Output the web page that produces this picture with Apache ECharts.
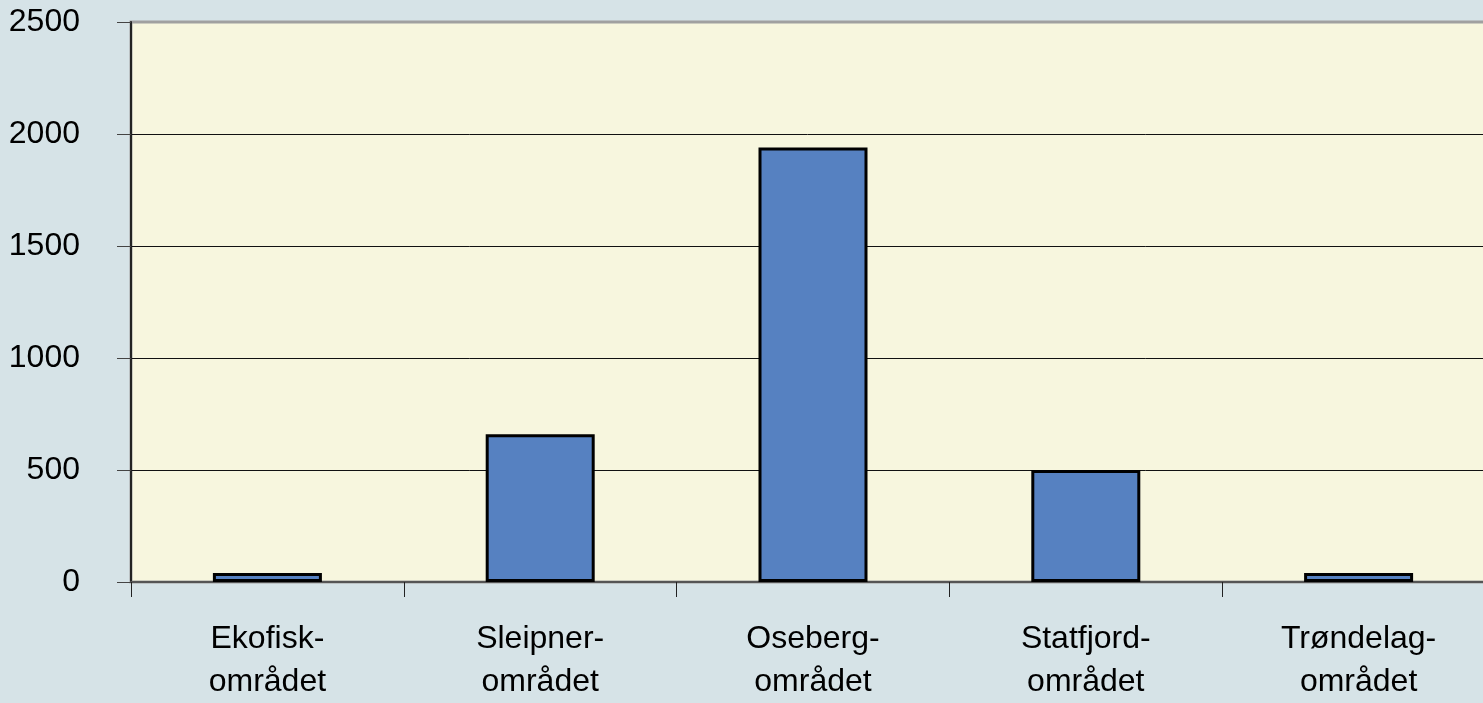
<!DOCTYPE html>
<html>
<head>
<meta charset="utf-8">
<script src="https://cdn.jsdelivr.net/npm/echarts@6/dist/echarts.min.js"></script>
<style>
  html, body { margin: 0; padding: 0; background: #d6e3e7; }
  #container { width: 1483px; height: 703px; }
</style>
</head>
<body>
<div id="container"></div>
<script>
var categories = ['Ekofisk-\nområdet', 'Sleipner-\nområdet', 'Oseberg-\nområdet', 'Statfjord-\nområdet', 'Trøndelag-\nområdet'];
var values = [40, 660, 1940, 500, 40];
var yTicks = [0, 500, 1000, 1500, 2000, 2500];

var font = "'Liberation Sans Narrow', 'Arial Narrow', 'Liberation Sans', sans-serif";

var option = {
  animation: false,
  backgroundColor: '#d6e3e7',
  grid: {
    left: 131,
    top: 22,
    width: 1364,
    bottom: 121,
    outerBoundsMode: 'none',
    containLabel: false,
    show: true,
    backgroundColor: '#f7f6de',
    borderColor: '#a0a0a0',
    borderWidth: 3
  },
  xAxis: {
    type: 'category',
    data: categories,
    axisLine: {
      lineStyle: { color: '#555', width: 2 }
    },
    axisTick: {
      show: true,
      length: 15,
      lineStyle: { color: '#222', width: 1 }
    },
    axisLabel: {
      color: '#000',
      fontFamily: font,
      fontSize: 32,
      lineHeight: 43,
      margin: 36
    }
  },
  yAxis: {
    type: 'value',
    min: yTicks[0],
    max: yTicks[yTicks.length - 1],
    interval: 500,
    axisLine: {
      show: true,
      lineStyle: { color: '#222', width: 2 }
    },
    axisTick: {
      show: true,
      length: 14,
      lineStyle: { color: '#444', width: 1 }
    },
    axisLabel: {
      color: '#000',
      fontFamily: font,
      fontSize: 32,
      margin: 51,
      formatter: function (v) { return String(v); }
    },
    splitLine: {
      showMaxLine: false,
      lineStyle: { color: '#111', width: 1 }
    }
  },
  series: [{
    type: 'bar',
    data: values,
    barWidth: 109,
    itemStyle: {
      color: '#5681c1',
      borderColor: '#000',
      borderWidth: 3
    }
  }]
};

var myChart = echarts.init(document.getElementById('container'), null, { renderer: 'canvas' });
myChart.setOption(option);
</script>
</body>
</html>
